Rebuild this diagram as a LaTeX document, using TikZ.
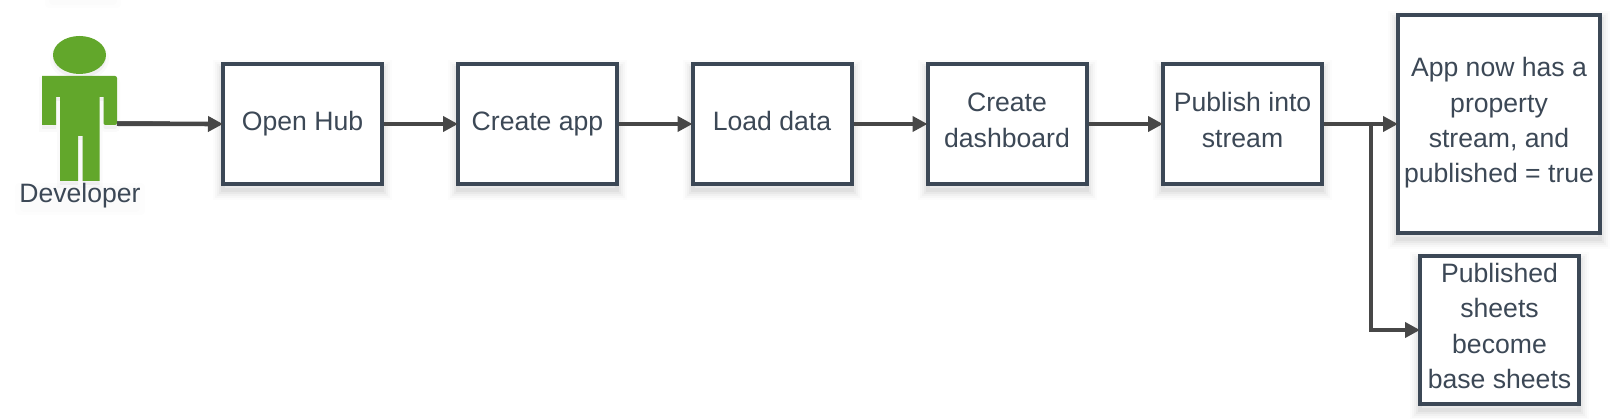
\documentclass[tikz,border=0pt]{standalone}
\usepackage{fontspec}
\setmainfont{Liberation Sans}
\usetikzlibrary{arrows.meta,calc}
\definecolor{boxline}{HTML}{3C4856}
\definecolor{arrowline}{HTML}{474747}
\definecolor{persongreen}{HTML}{62A72B}
\newcommand\boxtext[2]{\raisebox{#1}[0pt][0pt]{\begin{tabular}{@{}c@{}}#2\end{tabular}}}
\tikzset{
  softshadow/.style={
    preaction={draw=black,draw opacity=.012,fill=none,line width=#1+16pt,transform canvas={yshift=-6pt}},
    preaction={draw=black,draw opacity=.018,fill=none,line width=#1+12pt,transform canvas={yshift=-6pt}},
    preaction={draw=black,draw opacity=.025,fill=none,line width=#1+8pt,transform canvas={yshift=-6pt}},
    preaction={draw=black,draw opacity=.03,fill=none,line width=#1+4pt,transform canvas={yshift=-6pt}},
    preaction={draw=black,draw opacity=.04,fill=none,line width=#1,transform canvas={yshift=-6pt}}},
  flowbox/.style={draw=boxline,line width=4pt,fill=white,inner sep=0pt,
    text=boxline,font=\fontsize{26.6}{35.4}\selectfont,align=center,softshadow=4pt},
  flowarrow/.style={draw=arrowline,line width=4.6pt,shorten >=-2pt,-{Triangle[length=15pt,width=15pt]}},
  persontext/.style={text=boxline,font=\fontsize{26.6}{35.4}\selectfont,inner sep=0pt},
  personfill/.style={fill=persongreen,draw=none},
  smear/.style={fill=black,rounded corners=4pt,fill opacity=.008}
}
\begin{document}
\begin{tikzpicture}[x=1pt,y=-1pt]
\useasboundingbox (0,0) rectangle (1613,419);
% faint shadow at the top edge and behind the label
\fill[smear] (45,-5) rectangle (121,8);
\fill[smear] (49,-5) rectangle (117,5);
\fill[smear] (15,183) rectangle (145,215);
\fill[smear] (20,186) rectangle (140,212);
% person
\path[personfill,
  preaction={fill=black,fill opacity=.04,transform canvas={yshift=-4pt}},
  preaction={draw=black,draw opacity=.02,line width=6pt,transform canvas={yshift=-4pt}}]
  (79.5,55) ellipse [x radius=26.5pt,y radius=19pt];
\path[personfill,rounded corners=2pt,
  preaction={fill=black,fill opacity=.04,transform canvas={yshift=-4pt}},
  preaction={draw=black,draw opacity=.02,line width=6pt,transform canvas={yshift=-4pt}}]
  (42,76) -- (117,76) -- (117,125) -- (103.5,125) [sharp corners] -- (103.5,97) -- (99.5,97) -- (99.5,181)
  -- (82.7,181) -- (82.7,136) -- (78,136) -- (78,181) -- (60,181) -- (60,97) -- (56,97) -- (56,125) -- (42,125) -- cycle;
\node[minimum width=75pt,minimum height=10pt,inner sep=0pt,outer sep=0pt] (person) at (79.5,123.7) {};
\node[persontext] (devlabel) at (80,196) {Developer};
% boxes
\node[flowbox,minimum width=159pt,minimum height=120pt] (hub) at (302.5,124) {\boxtext{-5.2pt}{Open Hub}};
\node[flowbox,minimum width=159pt,minimum height=120pt] (create) at (537.5,124) {\boxtext{-5.2pt}{Create app}};
\node[flowbox,minimum width=159pt,minimum height=120pt] (load) at (772,124) {\boxtext{-5.2pt}{Load data}};
\node[flowbox,minimum width=159pt,minimum height=120pt] (dash) at (1007,124) {\boxtext{-4.6pt}{Create\\dashboard}};
\node[flowbox,minimum width=159pt,minimum height=120pt] (publish) at (1242.5,124) {\boxtext{-4.6pt}{Publish into\\stream}};
\node[flowbox,minimum width=202pt,minimum height=218pt] (app) at (1499,124) {\boxtext{-5pt}{App now has a\\property\\stream, and\\published = true}};
\node[flowbox,minimum width=159pt,minimum height=148pt] (sheets) at (1499.5,330) {\boxtext{-4.6pt}{Published\\sheets\\become\\base sheets}};
% connectors
\coordinate (branch) at (1371,124);
\coordinate (handoff) at (170,122.4);
\draw[draw=arrowline!75,line width=3pt] (person.east |- handoff) -- (handoff);
\draw[flowarrow] (person.east) -- (hub.west);
\draw[flowarrow] (hub.east) -- (create.west);
\draw[flowarrow] (create.east) -- (load.west);
\draw[flowarrow] (load.east) -- (dash.west);
\draw[flowarrow] (dash.east) -- (publish.west);
\draw[flowarrow] (publish.east) -- (app.west);
\draw[flowarrow] (branch) |- (sheets.west);
\end{tikzpicture}
\end{document}
